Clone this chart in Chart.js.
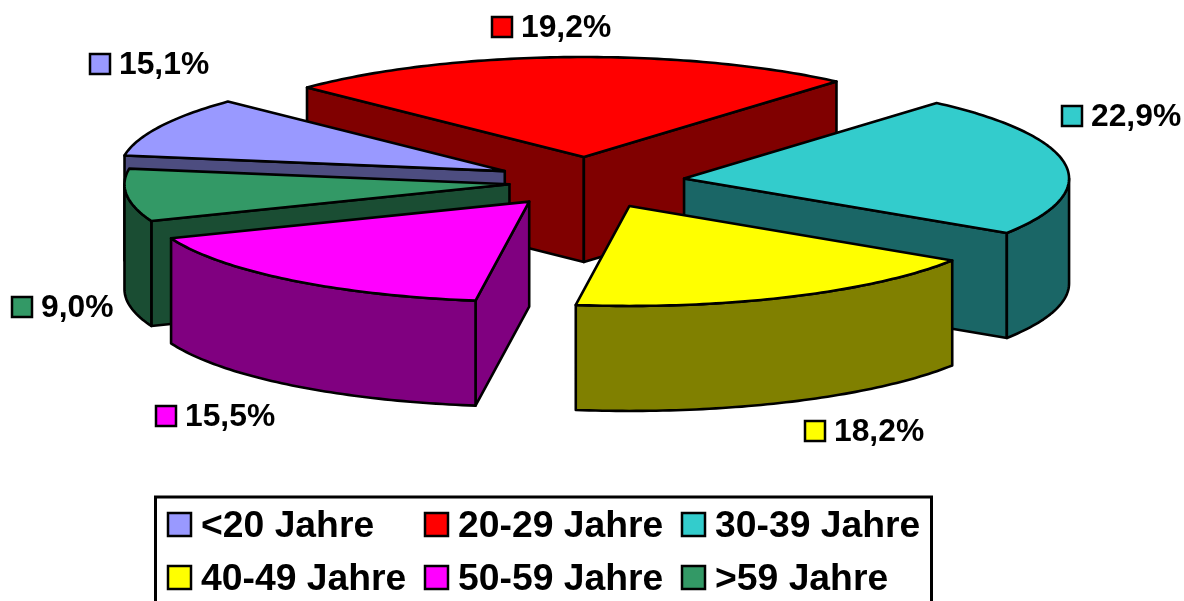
<!DOCTYPE html>
<html>
<head>
<meta charset="utf-8">
<style>html,body{margin:0;padding:0;background:#fff;overflow:hidden}canvas{display:block}</style>
<script src="https://cdn.jsdelivr.net/npm/chart.js@4/dist/chart.umd.js"></script>
</head>
<body>
<canvas id="c" width="1184" height="601"></canvas>
<script>
// Data
const categories = ["<20 Jahre", "20-29 Jahre", "30-39 Jahre", "40-49 Jahre", "50-59 Jahre", ">59 Jahre"];
const shares = [15.1, 19.2, 22.9, 18.2, 15.5, 9.0];
const shareLabels = ["15,1%", "19,2%", "22,9%", "18,2%", "15,5%", "9,0%"];

// Styles
const topColors = ["#9999FF", "#FF0000", "#33CCCC", "#FFFF00", "#FF00FF", "#339966"];
const wallColors = ["#4D4D80", "#800000", "#1A6666", "#808000", "#800080", "#1A4D33"];
const sliceOffsets = [93, 95, 97, 100, 95, 79];

// Layout of the 3D view. The reference's slices are not drawn strictly in
// proportion to their percentages, so the arc angles Chart.js computes from
// the shares pass through this view warp: [library angle, screen angle] in deg.
const viewAngleKnots = [[0,189],[54.4,224],[123.6,311],[206.1,393],[271.7,458],[327.6,518.5],[360,549]];
const view = {cx: 588, cy: 182, rx: 385, ry: 100, depth: 105, explodeY: 0.263};
const paintOrder = [1, 0, 5, 4, 2, 3];
const labelAnchors = [[90,64],[492,27],[1062,116],[805,431],[156,416],[12,307]];
const legendLayout = {box:[155.5,497,776,130], cols:[168,425,682], rows:[525,578], swatch:23, textGap:10};

function warp(deg){
  for(let i=1;i<viewAngleKnots.length;i++){
    const [a0,b0]=viewAngleKnots[i-1],[a1,b1]=viewAngleKnots[i];
    if(deg<=a1+1e-6){return b0+(b1-b0)*(deg-a0)/(a1-a0);}
  }
  return viewAngleKnots[viewAngleKnots.length-1][1];
}
const rad=d=>d*Math.PI/180;

const pie3d = {
  id:'pie3d',
  beforeDatasetsDraw(chart){
    const ctx=chart.ctx, meta=chart.getDatasetMeta(0);
    ctx.save();
    ctx.lineWidth=2.6; ctx.lineJoin='round'; ctx.strokeStyle='#000';
    const poly=(pts,fill)=>{
      ctx.beginPath();
      pts.forEach((p,i)=>i?ctx.lineTo(p[0],p[1]):ctx.moveTo(p[0],p[1]));
      ctx.closePath(); ctx.fillStyle=fill; ctx.fill(); ctx.stroke();
    };
    paintOrder.forEach(i=>{
      const el=meta.data[i];
      const a=warp((el.startAngle+Math.PI/2)*180/Math.PI);
      const b=warp((el.endAngle+Math.PI/2)*180/Math.PI);
      const mid=rad((a+b)/2), off=el.options.offset;
      const tx=view.cx+off*Math.cos(mid), ty=view.cy+off*view.explodeY*Math.sin(mid);
      const edge=d=>[tx+view.rx*Math.cos(rad(d)), ty+view.ry*Math.sin(rad(d))];
      const down=p=>[p[0],p[1]+view.depth];
      const tip=[tx,ty];
      // radial side faces
      if(Math.cos(rad(a))<0){const e=edge(a);poly([tip,e,down(e),down(tip)],wallColors[i]);}
      if(Math.cos(rad(b))>0){const e=edge(b);poly([tip,e,down(e),down(tip)],wallColors[i]);}
      // curved outer wall: only the front half of the rim
      for(let k=0;k<2;k++){
        const lo=Math.max(a,k*360), hi=Math.min(b,180+k*360);
        if(hi>lo){
          const rim=[];
          for(let d=lo;d<hi;d+=1)rim.push(edge(d));
          rim.push(edge(hi));
          poly(rim.concat(rim.slice().reverse().map(down)),wallColors[i]);
        }
      }
      // top face
      const top=[tip];
      for(let d=a;d<b;d+=1)top.push(edge(d));
      top.push(edge(b));
      poly(top,topColors[i]);
    });
    ctx.restore();
    return false;
  },
  afterDraw(chart){
    const ctx=chart.ctx;
    ctx.save();
    ctx.textBaseline='middle'; ctx.textAlign='left'; ctx.fillStyle='#000';
    ctx.font='bold 31.8px "Liberation Sans", Arial, sans-serif';
    ctx.lineWidth=2.5;
    shareLabels.forEach((t,i)=>{
      const [x,y]=labelAnchors[i];
      ctx.fillStyle=topColors[i]; ctx.fillRect(x,y-10,20,20);
      ctx.strokeStyle='#000'; ctx.strokeRect(x,y-10,20,20);
      ctx.fillStyle='#000'; ctx.fillText(t,x+29,y+1);
    });
    const L=legendLayout;
    ctx.lineWidth=3; ctx.strokeStyle='#000';
    ctx.strokeRect(L.box[0],L.box[1],L.box[2],L.box[3]);
    ctx.font='bold 37.3px "Liberation Sans", Arial, sans-serif';
    ctx.lineWidth=2.5;
    categories.forEach((t,i)=>{
      const x=L.cols[i%3], y=L.rows[Math.floor(i/3)];
      ctx.fillStyle=topColors[i]; ctx.fillRect(x,y-12,L.swatch,L.swatch);
      ctx.strokeRect(x,y-12,L.swatch,L.swatch);
      ctx.fillStyle='#000'; ctx.fillText(t,x+L.swatch+L.textGap,y+2);
    });
    ctx.restore();
  }
};

new Chart(document.getElementById('c'),{
  type:'pie',
  data:{labels:categories,datasets:[{data:shares,backgroundColor:topColors,borderColor:'#000',borderWidth:2,offset:sliceOffsets}]},
  options:{responsive:false,animation:false,
    plugins:{legend:{display:false},tooltip:{enabled:false}}},
  plugins:[pie3d]
});
</script>
</body>
</html>
